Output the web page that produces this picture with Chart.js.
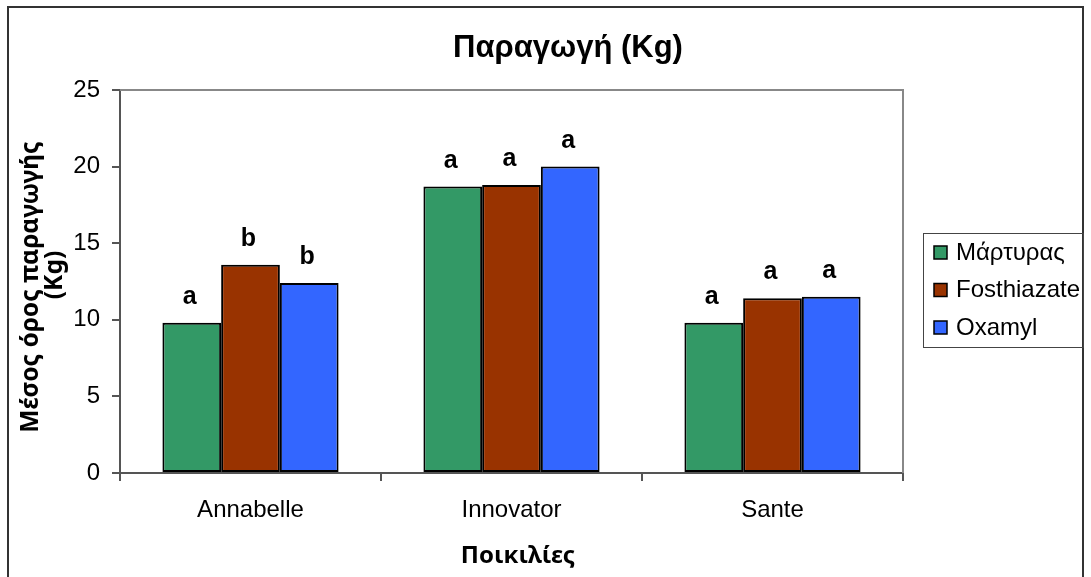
<!DOCTYPE html>
<html>
<head>
<meta charset="utf-8">
<script src="https://cdn.jsdelivr.net/npm/chart.js@4/dist/chart.umd.min.js"></script>
<style>
  html, body { margin: 0; padding: 0; background: #fff; }
  #wrap { width: 1091px; height: 577px; }
</style>
</head>
<body>
<div id="wrap"><canvas id="c" width="1091" height="577"></canvas></div>
<script>
// Yield per variety and treatment
const categories = ['Annabelle', 'Innovator', 'Sante'];
const seriesNames = ['Μάρτυρας', 'Fosthiazate', 'Oxamyl'];
const martyrasValues = [9.8, 18.7, 9.8];
const fosthiazateValues = [13.6, 18.8, 11.4];
const oxamylValues = [12.4, 20.0, 11.5];
// Significance letters shown above each bar
const martyrasLetters = ['a', 'a', 'a'];
const fosthiazateLetters = ['b', 'a', 'a'];
const oxamylLetters = ['b', 'a', 'a'];
const yTicks = [0, 5, 10, 15, 20, 25];

const chartTitle = 'Παραγωγή (Kg)';
const yTitleLines = ['Μέσος όρος παραγωγής', '(Kg)'];
const xTitle = 'Ποικιλίες';

const colors = ['#339966', '#993300', '#3366FF'];
const valueSets = [martyrasValues, fosthiazateValues, oxamylValues];
const letterSets = [martyrasLetters, fosthiazateLetters, oxamylLetters];

const datasets = seriesNames.map((name, i) => ({
  label: name,
  data: valueSets[i],
  letters: letterSets[i],
  backgroundColor: colors[i],
  borderColor: '#000',
  borderWidth: 2,
  borderSkipped: false,
  barPercentage: 1,
  categoryPercentage: 0.675
}));

// Outer frame, plot border, titles, letters and legend
const decor = {
  id: 'decor',
  beforeDraw(chart) {
    const ctx = chart.ctx;
    ctx.save();
    ctx.fillStyle = '#fff';
    ctx.fillRect(0, 0, chart.width, chart.height);
    ctx.strokeStyle = '#333';
    ctx.lineWidth = 2;
    ctx.strokeRect(8, 7, 1075, 600);
    ctx.restore();
  },
  beforeDatasetsDraw(chart) {
    const { ctx, chartArea: a } = chart;
    ctx.save();
    ctx.strokeStyle = '#888';
    ctx.lineWidth = 2;
    ctx.beginPath();
    ctx.moveTo(a.left, a.top);
    ctx.lineTo(a.right, a.top);
    ctx.lineTo(a.right, a.bottom);
    ctx.stroke();
    ctx.restore();
  },
  afterDraw(chart) {
    const { ctx } = chart;
    ctx.save();
    ctx.fillStyle = '#000';
    // main title
    ctx.font = 'bold 31px "Liberation Sans", Arial, sans-serif';
    ctx.textAlign = 'center';
    ctx.textBaseline = 'alphabetic';
    ctx.fillText(chartTitle, 568, 57);
    // x axis title
    ctx.font = 'bold 24px "Noto Sans", sans-serif';
    ctx.fillText(xTitle, 518, 563);
    // y axis title
    ctx.save();
    ctx.translate(38, 287);
    ctx.rotate(-Math.PI / 2);
    ctx.font = 'bold 24.5px "Noto Sans", sans-serif';
    ctx.fillText(yTitleLines[0], 0, 0);
    ctx.fillText(yTitleLines[1], 12, 24);
    ctx.restore();
    // letters above bars
    ctx.font = 'bold 25px "Liberation Sans", Arial, sans-serif';
    chart.data.datasets.forEach((ds, i) => {
      const meta = chart.getDatasetMeta(i);
      meta.data.forEach((bar, j) => {
        ctx.fillText(ds.letters[j], bar.x - 2, bar.y - 19);
      });
    });
    // legend
    const lx = 923, ly = 233, lw = 160, lh = 114;
    ctx.strokeStyle = '#444';
    ctx.lineWidth = 1;
    ctx.strokeRect(lx + 0.5, ly + 0.5, lw, lh);
    ctx.font = '24px "Liberation Sans", Arial, sans-serif';
    ctx.textAlign = 'left';
    ctx.textBaseline = 'middle';
    chart.data.datasets.forEach((ds, i) => {
      const cy = 252 + i * 37.5;
      ctx.fillStyle = ds.backgroundColor;
      ctx.fillRect(934, cy - 6, 13, 13);
      ctx.strokeStyle = '#000';
      ctx.lineWidth = 1.5;
      ctx.strokeRect(934, cy - 6, 13, 13);
      ctx.fillStyle = '#000';
      ctx.fillText(ds.label, 956, cy + 1);
    });
    ctx.restore();
  }
};

new Chart(document.getElementById('c'), {
  type: 'bar',
  data: { labels: categories, datasets },
  plugins: [decor],
  options: {
    responsive: false,
    animation: false,
    layout: { padding: { top: 90, right: 188, bottom: 0, left: 0 } },
    plugins: {
      legend: { display: false },
      title: { display: false },
      tooltip: { enabled: false }
    },
    scales: {
      x: {
        afterFit(scale) { scale.height = 104; },
        grid: { offset: true, drawOnChartArea: false, drawTicks: true, tickLength: 8, color: '#555', lineWidth: 2 },
        border: { display: true, color: '#555', width: 2 },
        ticks: { color: '#000', padding: 15, font: { family: '"Liberation Sans", Arial, sans-serif', size: 24 } }
      },
      y: {
        min: 0,
        max: 25,
        afterFit(scale) { scale.width = 120; },
        afterBuildTicks(scale) { scale.ticks = yTicks.map(v => ({ value: v })); },
        grid: { drawOnChartArea: false, drawTicks: true, tickLength: 8, color: '#555', lineWidth: 2 },
        border: { display: true, color: '#555', width: 2 },
        ticks: { color: '#000', padding: 12, font: { family: '"Liberation Sans", Arial, sans-serif', size: 24 } }
      }
    }
  }
});
</script>
</body>
</html>
